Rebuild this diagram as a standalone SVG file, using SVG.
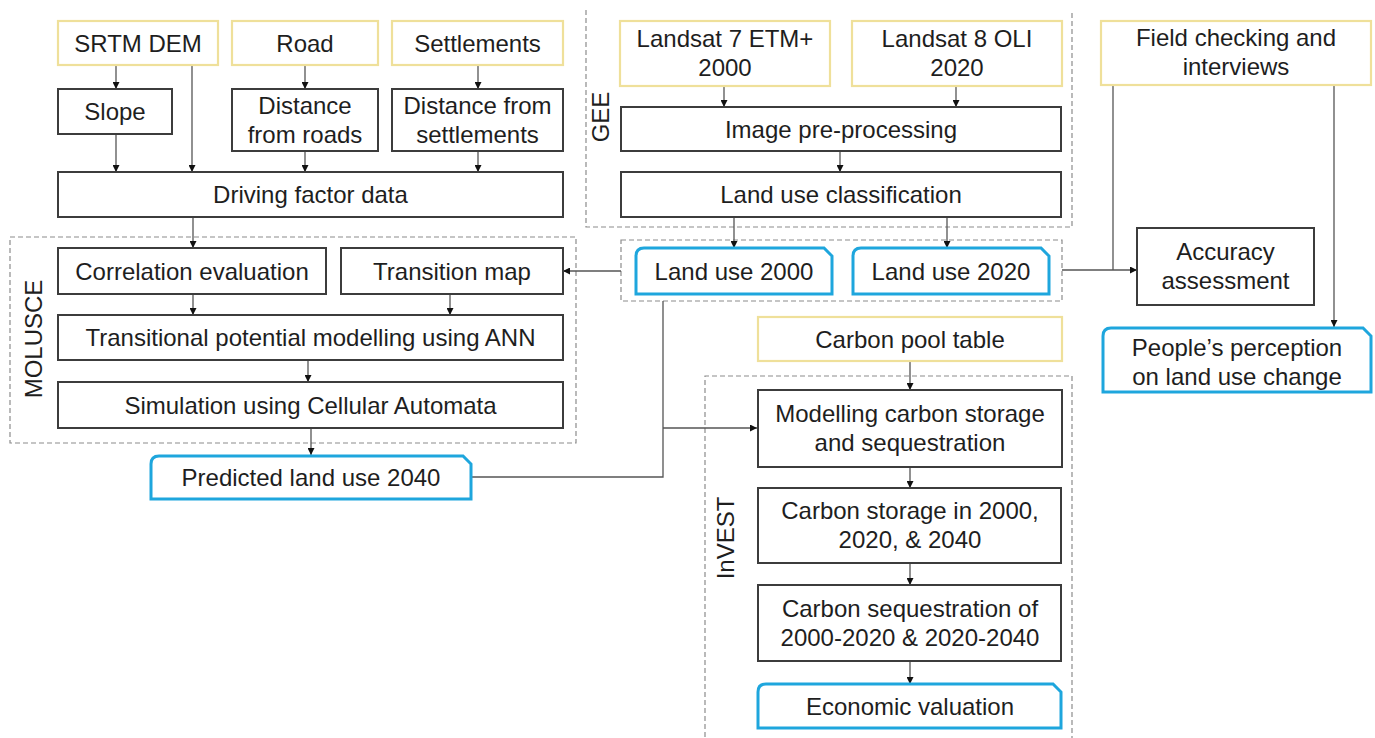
<svg xmlns="http://www.w3.org/2000/svg" width="1375" height="738" viewBox="0 0 1375 738">
<defs>
<style>
text{font-family:"Liberation Sans",Arial,sans-serif;font-size:24px;fill:#1e1e1e;text-anchor:middle}
.y{fill:#fff;stroke:#efe09a;stroke-width:2.2}
.b{fill:#fff;stroke:#3c3c3c;stroke-width:2}
.c{fill:#fff;stroke:#1ea6dd;stroke-width:3}
.d{fill:none;stroke:#8c8c8c;stroke-width:1.2;stroke-dasharray:5 3}
.l{fill:none;stroke:#555;stroke-width:1.3}
</style>
<marker id="a" viewBox="0 0 10 10" refX="10" refY="5" markerWidth="7" markerHeight="7" markerUnits="userSpaceOnUse" orient="auto"><path d="M0,0 L10,5 L0,10 Z" fill="#111"/></marker>
</defs>
<rect width="1375" height="738" fill="#fff"/>

<g id="groups">
<path class="d" d="M586,10 V227 H1072 V10"/>
<rect class="d" x="10" y="237" width="566" height="206"/>
<rect class="d" x="621" y="240" width="441" height="61"/>
<path class="d" d="M705,745 V376 H1072 V745"/>
<text transform="translate(600,117) rotate(-90)" x="0" y="8.5">GEE</text>
<text transform="translate(33,339) rotate(-90)" x="0" y="8.5">MOLUSCE</text>
<text transform="translate(725,538) rotate(-90)" x="0" y="8.5">InVEST</text>
</g>

<g id="connectors" class="l">
<path d="M116,65 V89" marker-end="url(#a)"/>
<path d="M192,65 V172" marker-end="url(#a)"/>
<path d="M116,134 V172" marker-end="url(#a)"/>
<path d="M305,65 V89" marker-end="url(#a)"/>
<path d="M305,151 V172" marker-end="url(#a)"/>
<path d="M478,65 V89" marker-end="url(#a)"/>
<path d="M478,151 V172" marker-end="url(#a)"/>
<path d="M193,217 V248" marker-end="url(#a)"/>
<path d="M193,294 V315" marker-end="url(#a)"/>
<path d="M450,294 V315" marker-end="url(#a)"/>
<path d="M308,360 V382" marker-end="url(#a)"/>
<path d="M311,428 V455" marker-end="url(#a)"/>
<path d="M724,86 V107" marker-end="url(#a)"/>
<path d="M956,86 V107" marker-end="url(#a)"/>
<path d="M840,151 V172" marker-end="url(#a)"/>
<path d="M734,217 V248" marker-end="url(#a)"/>
<path d="M947,217 V248" marker-end="url(#a)"/>
<path d="M621,271 H563" marker-end="url(#a)"/>
<path d="M1062,270 H1137" marker-end="url(#a)"/>
<path d="M1113,85 V270"/>
<path d="M1334,85 V327" marker-end="url(#a)"/>
<path d="M471,477 H663 V301"/>
<path d="M663,428 H757" marker-end="url(#a)"/>
<path d="M910,361 V390" marker-end="url(#a)"/>
<path d="M910,467 V488" marker-end="url(#a)"/>
<path d="M910,563 V585" marker-end="url(#a)"/>
<path d="M910,661 V684" marker-end="url(#a)"/>
</g>

<g id="srtm"><rect class="y" x="58" y="21" width="160" height="44"/><text x="138" y="51.5">SRTM DEM</text></g>
<g id="road"><rect class="y" x="232" y="21" width="146" height="44"/><text x="305" y="51.5">Road</text></g>
<g id="settlements"><rect class="y" x="392" y="21" width="171" height="44"/><text x="477.5" y="51.5">Settlements</text></g>
<g id="landsat7"><rect class="y" x="620" y="21" width="210" height="65"/><text x="725" y="47">Landsat 7 ETM+</text><text x="725" y="76">2000</text></g>
<g id="landsat8"><rect class="y" x="852" y="21" width="210" height="65"/><text x="957" y="47">Landsat 8 OLI</text><text x="957" y="76">2020</text></g>
<g id="field"><rect class="y" x="1101" y="21" width="270" height="64"/><text x="1236" y="46">Field checking and</text><text x="1236" y="75">interviews</text></g>

<g id="slope"><rect class="b" x="58" y="89" width="114" height="45"/><text x="115" y="120">Slope</text></g>
<g id="distroads"><rect class="b" x="232" y="89" width="146" height="62"/><text x="305" y="114">Distance</text><text x="305" y="143">from roads</text></g>
<g id="distsett"><rect class="b" x="392" y="89" width="171" height="62"/><text x="477.5" y="114">Distance from</text><text x="477.5" y="143">settlements</text></g>
<g id="driving"><rect class="b" x="58" y="172" width="505" height="45"/><text x="310.5" y="203">Driving factor data</text></g>

<g id="preproc"><rect class="b" x="621" y="107" width="440" height="44"/><text x="841" y="137.5">Image pre-processing</text></g>
<g id="classif"><rect class="b" x="621" y="172" width="440" height="45"/><text x="841" y="203">Land use classification</text></g>

<g id="correlation"><rect class="b" x="58" y="248" width="268" height="46"/><text x="192" y="279.5">Correlation evaluation</text></g>
<g id="transmap"><rect class="b" x="341" y="248" width="222" height="46"/><text x="452" y="279.5">Transition map</text></g>
<g id="transpot"><rect class="b" x="58" y="315" width="505" height="45"/><text x="310.5" y="346">Transitional potential modelling using ANN</text></g>
<g id="simulation"><rect class="b" x="58" y="382" width="505" height="46"/><text x="310.5" y="413.5">Simulation using Cellular Automata</text></g>
<g id="predicted"><path class="c" d="M151,499 V464 Q151,456 159,456 H463 L471,464 V499 Z"/><text x="311" y="486">Predicted land use 2040</text></g>

<g id="lu2000"><path class="c" d="M636,294 V256 Q636,248 644,248 H824 L832,256 V294 Z"/><text x="734" y="279.5">Land use 2000</text></g>
<g id="lu2020"><path class="c" d="M853,294 V256 Q853,248 861,248 H1041 L1049,256 V294 Z"/><text x="951" y="279.5">Land use 2020</text></g>

<g id="accuracy"><rect class="b" x="1137" y="228" width="177" height="77"/><text x="1225.5" y="260">Accuracy</text><text x="1225.5" y="289">assessment</text></g>
<g id="perception"><path class="c" d="M1103,392 V336 Q1103,328 1111,328 H1363 L1371,336 V392 Z"/><text x="1237" y="356">People’s perception</text><text x="1237" y="385">on land use change</text></g>

<g id="carbonpool"><rect class="y" x="758" y="317" width="304" height="44"/><text x="910" y="347.5">Carbon pool table</text></g>
<g id="modelling"><rect class="b" x="758" y="390" width="304" height="77"/><text x="910" y="422">Modelling carbon storage</text><text x="910" y="451">and sequestration</text></g>
<g id="storage"><rect class="b" x="758" y="488" width="303" height="75"/><text x="910" y="519">Carbon storage in 2000,</text><text x="910" y="548">2020, &amp; 2040</text></g>
<g id="sequestration"><rect class="b" x="758" y="585" width="303" height="76"/><text x="910" y="617">Carbon sequestration of</text><text x="910" y="646">2000-2020 &amp; 2020-2040</text></g>
<g id="economic"><path class="c" d="M758,728 V692 Q758,684 766,684 H1053 L1061,692 V728 Z"/><text x="910" y="715">Economic valuation</text></g>
</svg>
